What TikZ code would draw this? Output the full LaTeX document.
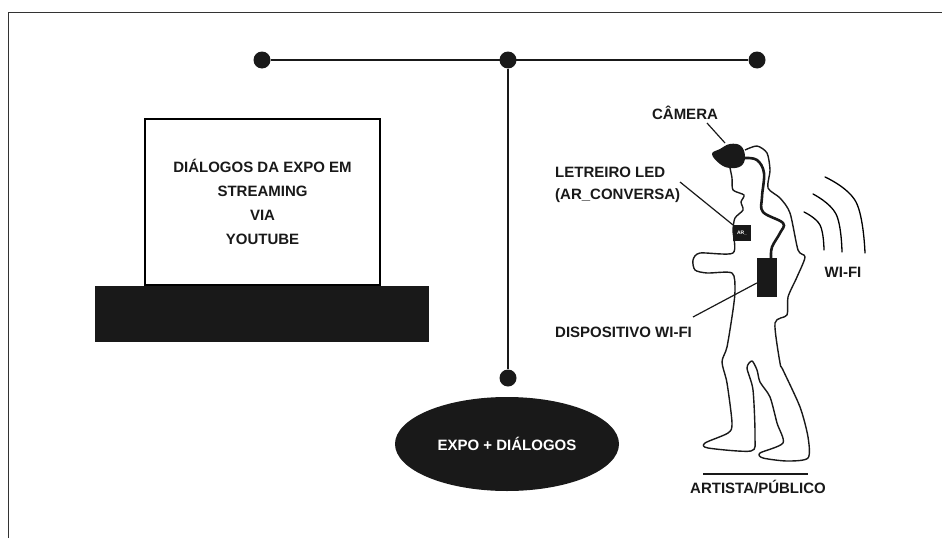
\documentclass[tikz,border=0pt]{standalone}
\usepackage{fontspec}
\setmainfont{Liberation Sans}
\usetikzlibrary{arrows.meta,positioning,fit}

\begin{document}
\begin{tikzpicture}[
		x=1pt, y=-1pt,
		basic/.style  = {font=\fontsize{15}{24}\selectfont\bfseries, text=black!90},
		label/.style  = {basic, align=left, inner sep=0pt},
		screen/.style = {basic, draw, line width=1.2pt, minimum width=235pt, minimum height=166pt, align=center, inner sep=0pt},
		block/.style  = {fill=black!90, draw=none, rectangle, inner sep=0pt},
		dot/.style    = {fill=black!90, circle, minimum size=17pt, inner sep=0pt},
		wave/.style   = {line width=1.3pt, line cap=round},
		outline/.style = {line width=1.4pt, draw=black!90, line join=round},
		leader/.style = {line width=1.2pt, draw=black!90}]
		
		\useasboundingbox (0,0) rectangle (942,538);
		
		% Frame, open on the right and at the bottom
		\draw[line width=1pt, black!80] (8,538) -- (8,12) -- (942,12);
		
		% Mast with its three top points and the foot point
		\node[dot] (dotl) at (262,60) {};
		\node[dot] (dotm) at (508,60) {};
		\node[dot] (dotr) at (757,60) {};
		\node[dot] (dotb) at (508,378) {};
		\draw[line width=2pt, black!90] (dotl) -- (dotr);
		\draw[line width=2pt, black!90] (dotm) -- (dotb);
		
		% Streaming screen on its base
		\node[screen] (screen) at (262.5,202) {DIÁLOGOS DA EXPO EM\\STREAMING\\VIA\\YOUTUBE};
		\node[block, minimum width=334pt, minimum height=56pt] (base) at (261.5,314) {};
		
		% Exhibition ellipse
		\path[fill=black!90] (507,444) ellipse [x radius=112, y radius=47];
		\node[basic, text=white] (expo) at (507,444) {EXPO + DIÁLOGOS};
		
		% Figure outline
		\draw[outline] plot[smooth, tension=0.45] coordinates {
			(730,168) (732,178) (733,190) (744,195) (741,202) (743,210) (735,218) (733,230) (733,253)
			(700,253) (693,260) (695,270) (707,273) (732,273) (735,290) (733,310) (727,347) (722,362)
			(727,383) (732,423) (728,433) (705,443) (708,448) (751,451) (755,437) (753,390) (747,368)
			(752,361) (757,370) (760,382) (770,397) (777,423) (783,443) (760,453) (763,458) (787,461)
			(808,458) (808,437) (800,407) (783,370) (780,363) (775,323) (787,315) (788,297) (797,277)
			(805,257) (798,250) (790,213) (780,198) (768,188) (770,170) (767,153) (757,146) (745,150)};
		
		% Camera on the head, its cable and the device
		\path[fill=black!90] plot[smooth cycle, tension=0.7] coordinates {
			(712,154) (720,149) (730,144) (741,146) (745,157) (741,166) (730,168) (720,164)};
		\draw[line width=2.6pt, black!90] plot[smooth, tension=0.6] coordinates {
			(745,158) (757,160) (764,173) (762,197) (763,212) (783,223) (780,233) (772,247) (771,258)};
		\node[block, minimum width=20pt, minimum height=39pt] (device) at (767,277.5) {};
		\node[block, minimum width=18pt, minimum height=16pt, text=white, font=\fontsize{5}{6}\selectfont\bfseries] (led) at (742,233) {AR\_};
		
		% Wi-Fi waves
		\draw[wave] plot[smooth, tension=0.7] coordinates {(804,212) (820,225) (824,250)};
		\draw[wave] plot[smooth, tension=0.7] coordinates {(813,194) (836,214) (842,252)};
		\draw[wave] plot[smooth, tension=0.7] coordinates {(825,177) (856,202) (865,253)};
		
		% Labels
		\node[label] (cameratxt) at (685,113) {CÂMERA};
		\node[label, anchor=north west, font=\fontsize{15}{22}\selectfont\bfseries] (ledtxt) at (555,167) {LETREIRO LED\\(AR\_CONVERSA)};
		\node[label, anchor=west] (devicetxt) at (555,332) {DISPOSITIVO WI-FI};
		\node[label] (wifitxt) at (843,272) {WI-FI};
		\node[label] (artisttxt) at (758,487) {ARTISTA/PÚBLICO};
		
		% Lines from the labels to what they name
		\coordinate (camerahead) at (725,143);
		\coordinate (camerafree) at (707,123);
		\coordinate (ledfree) at (680,182);
		\coordinate (devicefree) at (693,317);
		\coordinate (rulel) at (703,474);
		\coordinate (ruler) at (808,474);
		\draw[leader] (camerafree) -- (camerahead);
		\draw[leader] (ledfree) -- (led.north west);
		\draw[leader] (devicefree) -- ([yshift=-5.5pt]device.west);
		\draw[leader] (rulel) -- (ruler);
		
	\end{tikzpicture}
\end{document}
